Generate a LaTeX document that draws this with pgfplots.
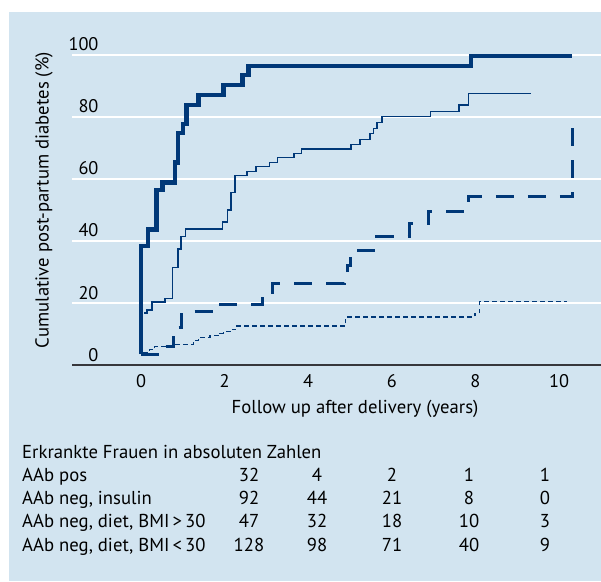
\documentclass[border=0pt]{standalone}
\usepackage{fontspec}
\setmainfont{PT Sans}
\usepackage{pgfplots}
\pgfplotsset{compat=1.18}
\definecolor{bg}{RGB}{210,228,240}
\definecolor{ln}{RGB}{0,56,120}
\definecolor{sp}{RGB}{55,55,60}
\newcommand\tabf{\fontsize{18.7}{21}\selectfont}
\begin{document}
\begin{tikzpicture}[x=1pt,y=1pt]
\path[use as bounding box] (0,0) rectangle (601,581);
\fill[bg] (9,0) rectangle (601,569);
\begin{axis}[
  at={(72pt,216pt)}, anchor=south west,
  width=529pt, height=310pt, scale only axis,
  xmin=-1.651, xmax=11.005, ymin=0, ymax=100,
  clip=false,
  axis x line*=bottom, axis y line*=left,
  x axis line style={-, draw=sp, line width=1.8pt},
  y axis line style={draw=none},
  xtick={0,2,4,6,8,10}, ytick={0,20,40,60,80,100},
  ymajorgrids, xmajorgrids=false,
  grid style={white, line width=1.3pt},
  major tick length=0pt, tick style={draw=none},
  /pgf/number format/assume math mode=true,
  yticklabel style={anchor=base east, xshift=30pt, yshift=4pt, font=\fontsize{18.3}{20}\selectfont},
  xticklabel style={anchor=base, yshift=-22pt, font=\fontsize{18.3}{20}\selectfont},
  xlabel={Follow up after delivery (years)},
  ylabel={Cumulative post-partum diabetes (\%)},
  xlabel style={at={(axis description cs:0.535,-0.155)}, anchor=base, font=\tabf},
  ylabel style={at={(axis description cs:-0.053,0.532)}, anchor=center, rotate=0, font=\tabf},
  const plot,
]
% AAb pos (thick solid)
\addplot[ln, line width=4.5pt, line join=miter] coordinates {
(0,3.5) (0,38.4) (0.17,43.7) (0.375,56.5) (0.51,58.8) (0.81,65.3) (0.89,74.9)
(1.0,77.7) (1.09,83.9) (1.37,87.1) (1.97,90.3) (2.43,93.5) (2.57,96.5)
(7.89,99.7) (10.3,99.7)};
% AAb neg, insulin (thin solid)
\addplot[ln, line width=1.5pt] coordinates {
(0.07,16.7) (0.14,17.7) (0.26,20.4) (0.57,21.5) (0.75,31.5) (0.89,37.4) (0.96,41.4)
(1.07,43.9) (1.95,46.2) (2.07,50.0) (2.15,55.6) (2.25,61.1) (2.53,62.4) (2.75,64.0)
(3.07,65.3) (3.26,67.0) (3.66,68.3) (3.84,69.6) (5.02,71.2) (5.24,72.8) (5.48,74.7)
(5.56,76.3) (5.65,78.3) (5.77,80.1) (6.93,81.7) (7.61,83.9) (7.84,87.6) (9.31,87.8)};
% AAb neg, diet, BMI>30 (thick dashed)
\addplot[ln, line width=3pt, dash pattern=on 18pt off 14pt] coordinates {
(0,3.5) (0.5,5.9) (0.77,12.0) (0.97,17.2) (1.73,19.6) (2.9,22.8) (3.15,26.3)
(4.86,29.5) (4.93,32.0) (5.0,36.9) (5.64,41.4) (6.43,45.5) (6.87,49.5) (7.84,54.2)
(10.33,54.2) (10.33,77.1)};
% AAb neg, diet, BMI<30 (thin dashed)
\addplot[ln, line width=1.2pt, dash pattern=on 4.5pt off 3.5pt] coordinates {
(0.05,4.0) (0.2,5.0) (0.33,5.9) (0.81,6.6) (1.25,7.8) (1.37,8.8) (1.65,9.5)
(1.89,10.2) (1.97,10.8) (2.17,11.5) (2.29,12.6) (4.9,15.5) (7.99,16.7) (8.1,20.4)
(10.2,20.4)};
\end{axis}
\begin{scope}[every node/.style={font=\tabf, inner sep=0pt}]
\node[anchor=base west] at (22,123) {Erkrankte Frauen in absoluten Zahlen};
\node[anchor=base west] at (22,100) {AAb pos};
\node[anchor=base west] at (22,77) {AAb neg, insulin};
\node[anchor=base west] at (22,54) {AAb neg, diet, BMI\,>\,30};
\node[anchor=base west] at (22,30) {AAb neg, diet, BMI\,<\,30};
\foreach \y/\a/\b/\c/\d/\e in {100/32/4/2/1/1, 77/92/44/21/8/0, 54/47/32/18/10/3, 30/128/98/71/40/9}{
  \node[anchor=base] at (249,\y) {\a};
  \node[anchor=base] at (317,\y) {\b};
  \node[anchor=base] at (392,\y) {\c};
  \node[anchor=base] at (469,\y) {\d};
  \node[anchor=base] at (545,\y) {\e};
}
\end{scope}
\end{tikzpicture}
\end{document}
